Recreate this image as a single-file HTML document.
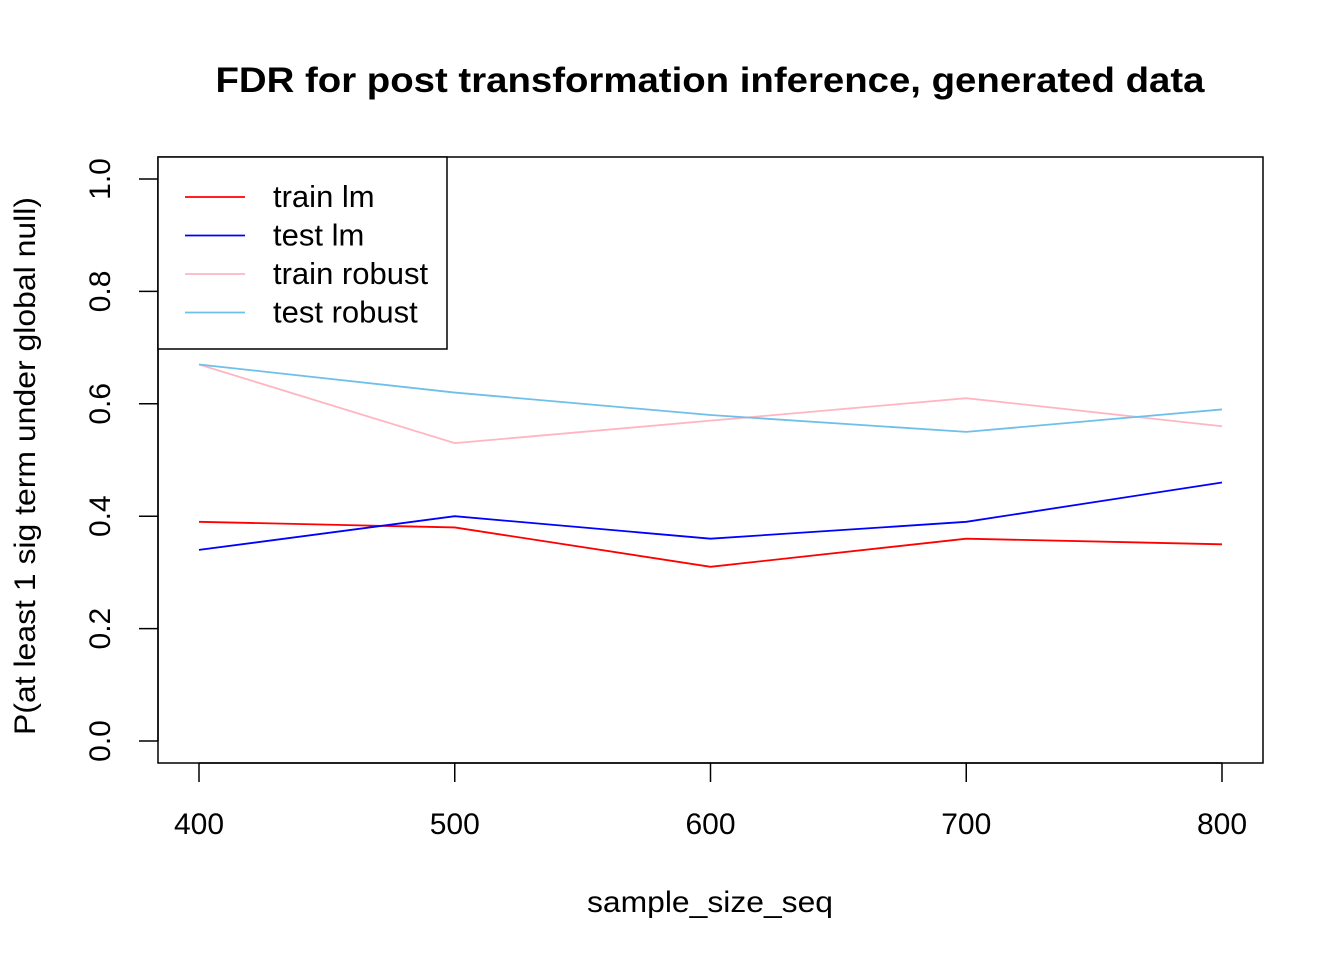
<!DOCTYPE html>
<html><head><meta charset="utf-8"><style>body{margin:0;background:#fff}svg{display:block}text{font-family:"Liberation Sans",Arial,sans-serif}</style></head>
<body>
<svg id="chart" width="1344" height="960" xmlns="http://www.w3.org/2000/svg">
<text x="710" y="92" text-anchor="middle" font-size="35" font-weight="bold" textLength="989" lengthAdjust="spacingAndGlyphs">FDR for post transformation inference, generated data</text>
<rect x="158" y="157" width="1105" height="606" fill="none" stroke="#000" stroke-width="1.5"/>
<g id="xaxis"></g>
<g id="yaxis"></g>
<text x="710" y="912" text-anchor="middle" font-size="30" textLength="246" lengthAdjust="spacingAndGlyphs">sample_size_seq</text>
<text transform="translate(35,466) rotate(-90)" text-anchor="middle" font-size="30" textLength="538" lengthAdjust="spacingAndGlyphs">P(at least 1 sig term under global null)</text>
<g id="series"></g>
<g id="legend">
<rect x="158" y="157" width="289" height="192" fill="#fff" stroke="#000" stroke-width="1.5"/>
</g>
</svg>
<script>
const categories=[400,500,600,700,800];
const trainLm=[0.39,0.38,0.31,0.36,0.35];
const testLm=[0.34,0.40,0.36,0.39,0.46];
const trainRobust=[0.67,0.53,0.57,0.61,0.56];
const testRobust=[0.67,0.62,0.58,0.55,0.59];
const yTicks=["0.0","0.2","0.4","0.6","0.8","1.0"];
const seriesNames=["train lm","test lm","train robust","test robust"];
const NS="http://www.w3.org/2000/svg";
const sx=v=>199+(v-400)*(1222-199)/400;
const sy=v=>741-v*562;
function mk(t,a,p){const e=document.createElementNS(NS,t);for(const k in a)e.setAttribute(k,a[k]);p.appendChild(e);return e;}
const xa=document.getElementById('xaxis'),ya=document.getElementById('yaxis');
mk('line',{x1:sx(400),x2:sx(800),y1:763,y2:763,stroke:'#000','stroke-width':1.5},xa);
categories.forEach(c=>{
 const l=mk('line',{x1:sx(c),x2:sx(c),y1:763,y2:782,stroke:'#000','stroke-width':1.5},xa);
 
 
 const t=mk('text',{x:sx(c),y:834,'text-anchor':'middle','font-size':30},xa);t.textContent=c;
 
 
});
mk('line',{x1:158,x2:158,y1:sy(0),y2:sy(1),stroke:'#000','stroke-width':1.5},ya);
yTicks.forEach(s=>{const v=parseFloat(s);
 const l=mk('line',{x1:139,x2:158,y1:sy(v),y2:sy(v),stroke:'#000','stroke-width':1.5},ya);
 
 
 const t=mk('text',{transform:`translate(110,${sy(v)}) rotate(-90)`,'text-anchor':'middle','font-size':30},ya);t.textContent=s;
 
 
});
const data=[trainLm,testLm,trainRobust,testRobust];
const colors=["#ff0000","#0000ff","#ffb6c1","#6ec0ea"];
const sg=document.getElementById('series');
data.forEach((d,i)=>{
 const p=mk('polyline',{points:d.map((v,j)=>sx(categories[j])+','+sy(v)).join(' '),fill:'none',stroke:colors[i],'stroke-width':1.8},sg);
 
 
});
const lg=document.getElementById('legend');
seriesNames.forEach((n,i)=>{const y=197+i*38.5;
 const l=mk('line',{x1:185,x2:245,y1:y,y2:y,stroke:colors[i],'stroke-width':1.8},lg);
 
 
 const t=mk('text',{x:273,y:y+10,'font-size':31},lg);t.textContent=n;
 
 
});
</script>
</body></html>
